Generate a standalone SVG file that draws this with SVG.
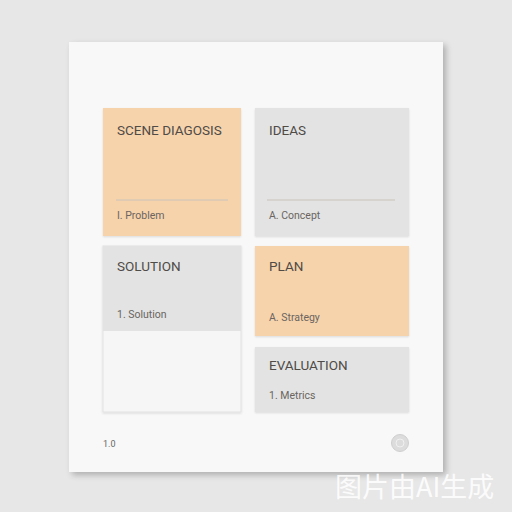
<svg xmlns="http://www.w3.org/2000/svg" width="512" height="512" viewBox="0 0 512 512">
  <defs>
    <filter id="shadow" x="-10%" y="-10%" width="130%" height="130%">
      <feGaussianBlur in="SourceAlpha" stdDeviation="3"/>
      <feOffset dx="3" dy="3"/>
      <feComponentTransfer><feFuncA type="linear" slope="0.25"/></feComponentTransfer>
      <feMerge><feMergeNode/><feMergeNode in="SourceGraphic"/></feMerge>
    </filter>
    <filter id="soft" x="-5%" y="-5%" width="110%" height="110%">
      <feGaussianBlur in="SourceAlpha" stdDeviation="0.8"/>
      <feOffset dx="0" dy="0.8"/>
      <feComponentTransfer><feFuncA type="linear" slope="0.12"/></feComponentTransfer>
      <feMerge><feMergeNode/><feMergeNode in="SourceGraphic"/></feMerge>
    </filter>
  </defs>
  <style>
    .title { font-family: "Roboto", "Liberation Sans", sans-serif; font-size: 13.5px; font-weight: 400; fill: #4f4b47; }
    .sub { font-family: "Roboto", "Liberation Sans", sans-serif; font-size: 10.5px; font-weight: 400; fill: #6a6560; }
    .orange { fill: #f7d3ac; }
    .grey { fill: #e3e3e3; }
    .rule { stroke: #c9c2ba; stroke-width: 1; }
  </style>
  <rect x="0" y="0" width="512" height="512" fill="#e7e7e7"/>
  <rect x="69" y="42" width="374" height="430" fill="#f8f8f8" filter="url(#shadow)"/>

  <g id="scene-diagosis">
    <rect class="orange" x="103" y="108" width="138" height="128" filter="url(#soft)"/>
    <text class="title" x="117" y="135">SCENE DIAGOSIS</text>
    <line class="rule" x1="116" y1="200" x2="228" y2="200"/>
    <text class="sub" x="117" y="219">I. Problem</text>
  </g>

  <g id="ideas">
    <rect class="grey" x="255" y="108" width="154" height="128" filter="url(#soft)"/>
    <text class="title" x="269" y="135">IDEAS</text>
    <line class="rule" x1="267" y1="200" x2="395" y2="200"/>
    <text class="sub" x="269" y="219">A. Concept</text>
  </g>

  <g id="solution">
    <rect x="103" y="246" width="138" height="166" fill="#f6f6f6" stroke="#e2e2e2" stroke-width="1" filter="url(#soft)"/>
    <rect class="grey" x="103" y="246" width="138" height="85"/>
    <text class="title" x="117" y="271">SOLUTION</text>
    <text class="sub" x="117" y="318">1. Solution</text>
  </g>

  <g id="plan">
    <rect class="orange" x="255" y="246" width="154" height="90" filter="url(#soft)"/>
    <text class="title" x="269" y="271">PLAN</text>
    <text class="sub" x="269" y="321">A. Strategy</text>
  </g>

  <g id="evaluation">
    <rect class="grey" x="255" y="347" width="154" height="65" filter="url(#soft)"/>
    <text class="title" x="269" y="370">EVALUATION</text>
    <text class="sub" x="269" y="399">1. Metrics</text>
  </g>

  <g id="connectors"></g>

  <text x="103" y="447" font-family="Roboto, 'Liberation Sans', sans-serif" font-size="9" fill="#666">1.0</text>
  <g id="badge">
    <circle cx="400" cy="443" r="8.5" fill="#dcdcdc" stroke="#cfcfcf" stroke-width="1"/>
    <circle cx="400" cy="443" r="4" fill="none" stroke="#f0f0f0" stroke-width="1"/>
  </g>

  <text x="335" y="497" font-family="'Noto Sans CJK SC', sans-serif" font-size="27" fill="#ffffff" fill-opacity="0.85">图片由AI生成</text>
</svg>
